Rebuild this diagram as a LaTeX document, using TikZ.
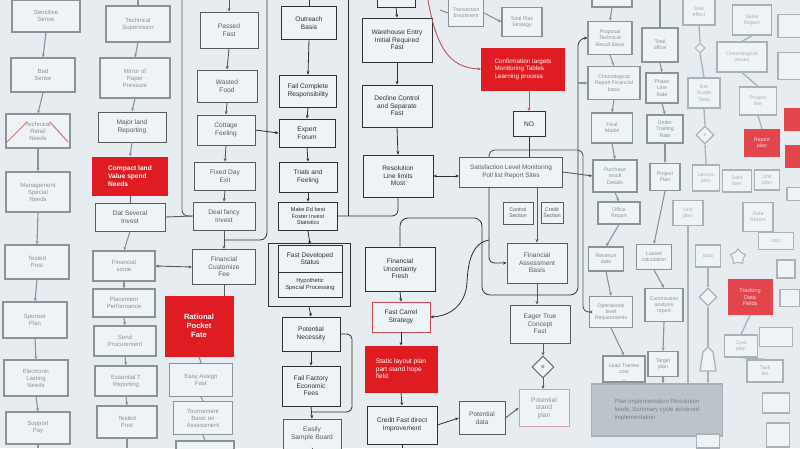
\documentclass[tikz,border=0pt]{standalone}
\usepackage{fontspec}
\setmainfont{Liberation Sans}
\usetikzlibrary{arrows.meta,shapes.geometric}
\definecolor{bg}{HTML}{E6ECF0}
\definecolor{boxf}{HTML}{EEF3F6}
\definecolor{dk}{HTML}{2B3135}
\definecolor{md}{HTML}{555D63}
\definecolor{lt}{HTML}{8A939A}
\definecolor{xl}{HTML}{A9B2B8}
\definecolor{rd}{HTML}{E01C23}
\definecolor{rdf}{HTML}{E2464C}
\definecolor{rdl}{HTML}{C2505A}
\definecolor{rdo}{HTML}{CC4A52}
\definecolor{pk}{HTML}{CFA0A6}
\definecolor{gbf}{HTML}{BAC4CA}
\definecolor{gbd}{HTML}{A5AFB6}
\definecolor{gbt}{HTML}{76818A}
\begin{document}
\begin{tikzpicture}[x=1pt,y=-1pt,
  base/.style={rectangle,align=center,inner sep=1pt,fill=boxf,font=\fontsize{6.6}{7.6}\selectfont},
  sz/.style 2 args={minimum width=#1pt,minimum height=#2pt},
  bx/.style={base,draw=dk,text=dk,line width=0.8pt},
  bm/.style={base,draw=md,text=md,line width=0.9pt},
  bl/.style={base,draw=lt,text=lt,line width=1.1pt,font=\fontsize{6}{7}\selectfont},
  bxl/.style={base,draw=xl,text=xl,line width=1.3pt,font=\fontsize{5.2}{6.2}\selectfont},
  rb/.style={base,fill=rd,draw=rd,text=white,line width=0.8pt},
  rbl/.style={base,fill=rdf,draw=rdf,text=white!80!rdf,line width=1pt,font=\fontsize{5.2}{6.2}\selectfont},
  smallf/.style={font=\fontsize{5.2}{6.2}\selectfont},
  ln/.style={draw=dk,line width=0.8pt},
  lnm/.style={draw=md,line width=0.9pt},
  lnl/.style={draw=lt,line width=1.1pt},
  lnx/.style={draw=xl,line width=1.3pt},
  arr/.style={-{Stealth[length=3.5pt,width=3pt]}},
  darr/.style={{Stealth[length=3.5pt,width=3pt]}-{Stealth[length=3.5pt,width=3pt]}},
]
\useasboundingbox (0,0) rectangle (800,448);
\clip (0,0) rectangle (800,448);
\fill[bg] (0,0) rectangle (800,448);

% ---------- column 1 ----------
\node[bl,sz={68}{32}] (a1) at (46,16) {Sensitive\\Sense};
\node[bl,sz={64}{34}] (a2) at (43,75) {Bad\\Sense};
\node[bl,sz={64}{34}] (a3) at (38,131) {Technical\\Retail\\Needs};
\node[bl,sz={64}{40}] (a4) at (38,192) {Management\\Special\\Needs};
\node[bl,sz={64}{34}] (a5) at (37,262) {Tested\\Post};
\node[bl,sz={64}{36}] (a6) at (35,320) {Sponsor\\Plan};
\node[bl,sz={64}{36}] (a7) at (36,378) {Electronic\\Lasting\\Needs};
\node[bl,sz={64}{32}] (a8) at (38,428) {Support\\Pay};
\foreach \u/\v in {a1/a2,a2/a3,a3/a4,a4/a5,a5/a6,a6/a7,a7/a8}
  \draw[lnl,arr] (\u.south) -- (\v.north);
\coordinate (a9) at (38,448);
\draw[lnl] (a8.south) -- (a9);
\draw[rdl!80,line width=1pt] (7,142) -- (27,122);
\draw[rdl!80,line width=1pt] (50,122) -- (68,142);

% ---------- column 2 ----------
\node[bl,sz={64}{36}] (b1) at (138,24) {Technical\\Supervision};
\node[bl,sz={70}{40}] (b2) at (135,78) {Mirror of\\Paper\\Pressure};
\node[bm,sz={68}{30}] (b3) at (132,127) {Major land\\Reporting};
\node[rb,sz={75}{38},font=\bfseries\fontsize{6.6}{7.8}\selectfont,align=left] (b4) at (130,176) {Compact land\\Value spend\\Needs};
\node[bm,sz={70}{28}] (b5) at (130,217) {Dat Several\\Invest};
\node[bl,sz={62}{30}] (b6) at (124,266) {Financial\\some};
\node[bl,sz={62}{28}] (b7) at (124,303) {Placement\\Performance};
\node[bl,sz={62}{30}] (b8) at (125,341) {Send\\Procurement};
\node[bl,sz={62}{30}] (b9) at (126,381) {Essential T\\Reporting};
\node[bl,sz={60}{32}] (b10) at (127,422) {Tested\\Post};
\coordinate (b0) at (138,0);
\draw[lnl] (b0) -- (b1.north);
\foreach \u/\v in {b1/b2,b2/b3,b3/b4}
  \draw[lnl,arr] (\u.south) -- (\v.north);
\draw[lnm] (b4.south) -- (b5.north);
\foreach \u/\v in {b5/b6,b6/b7,b7/b8,b8/b9,b9/b10}
  \draw[lnl,arr] (\u.south) -- (\v.north);
\coordinate (b11) at (127,448);
\draw[lnl] (b10.south) -- (b11);

% ---------- column 3 ----------
\node[bm,sz={58}{36}] (c1) at (229,30) {Passed\\Fast};
\node[bm,sz={60}{32}] (c2) at (227,86) {Wasted\\Food};
\node[bm,sz={58}{30}] (c3) at (226,130) {Cottage\\Feeling};
\node[bm,sz={61}{28}] (c4) at (225,176) {Fixed Day\\Exit};
\node[bm,sz={62}{28}] (c5) at (224,216) {Deal fancy\\Invest};
\node[bm,sz={63}{35}] (c6) at (224,267) {Financial\\Customize\\Fee};
\node[rb,sz={68}{60},font=\bfseries\fontsize{7.6}{9.2}\selectfont] (c7) at (199,326) {Rational\\Pocket\\Fate};
\node[bl,sz={63}{33}] (c8) at (201,380) {Easy Assign\\Fast};
\node[bl,sz={59}{33}] (c9) at (203,418) {Tournament\\Basic on\\Assessment};
\node[bl,sz={58}{28}] (c10) at (205,455) {};
\coordinate (c0) at (229,0);
\draw[lnm,arr] (c0) -- (c1.north);
\foreach \u/\v in {c1/c2,c2/c3,c3/c4,c4/c5,c5/c6}
  \draw[lnm,arr] (\u.south) -- (\v.north);
\draw[lnm] (c6.south) -- (c6.south |- c7.north);
\draw[lnl] (c7.south) -- (c8.north);
\draw[lnl] (c8.south) -- (c9.north);
\draw[lnl] (c9.south) -- (c10.north);
\coordinate (cv) at (182,0);
\draw[lnm,rounded corners=6] (cv) -- (182,216) -- (c5.west);
\draw[lnm] (b5.east) -- (c5.west);
\draw[lnm,darr] (b6.east) -- (c6.west);

% ---------- column 4 ----------
\node[bx,sz={55}{33}] (d1) at (309,23) {Outreach\\Basis};
\node[bx,sz={57}{32}] (d2) at (308,91) {Fail Complete\\Responsibility};
\node[bx,sz={56}{28}] (d3) at (307,133) {Expert\\Forum};
\node[bx,sz={58}{30}] (d4) at (308,177) {Trials and\\Feeling};
\node[bx,sz={59}{28},font=\fontsize{5.6}{6.6}\selectfont] (d5) at (308,216) {Make Ed best\\Foster Invest\\Statistics};
\node[draw=dk,line width=0.8pt,sz={82}{63}] (d6) at (309,274.5) {};
\node[bx,sz={64}{27}] (d7) at (310,258.5) {Fast Developed\\Status};
\node[bx,sz={64}{25},font=\fontsize{5.8}{6.8}\selectfont] (d8) at (310,284.5) {Hypothetic\\Special Processing};
\node[bx,sz={58}{34}] (d9) at (311,334) {Potential\\Necessity};
\node[bx,sz={58}{40}] (d10) at (311,386) {Fail Factory\\Economic\\Fees};
\node[bm,sz={58}{30}] (d11) at (312,434) {Easily\\Sample Board};
\coordinate (d0) at (309,0);
\draw[ln] (d0) -- (d1.north);
\foreach \u/\v in {d1/d2,d2/d3,d3/d4,d4/d5,d5/d7,d6/d9,d9/d10,d10/d11}
  \draw[ln,arr] (\u.south) -- (\v.north);
\coordinate (d12) at (312,448);
\draw[lnm] (d11.south) -- (d12);
\draw[ln,rounded corners=5] (d9.east) -- (352,334) -- (352,412) -- (311,412);
\coordinate (fl) at (267,0);
\coordinate (fr) at (348,0);
\draw[ln,rounded corners=7] (fl) -- (267,240) -- (224,240);
\draw[ln] (fr) -- (348,216);
\draw[ln,arr] (c3.east) -- (d3.west);

% ---------- column 5 ----------
\node[bx,sz={38}{20}] (e0) at (396,-3) {};
\node[bx,sz={70}{44}] (e1) at (397,40) {Warehouse Entry\\Initial Required\\Fast};
\node[bx,sz={70}{42}] (e2) at (397,106) {Decline Control\\and Separate\\Fast};
\node[bx,sz={70}{42}] (e3) at (398,176) {Resolution\\Line limits\\Most};
\node[bx,sz={70}{44}] (e4) at (400,269) {Financial\\Uncertainty\\Fresh};
\node[bx,draw=rdo,sz={58}{30}] (e5) at (401,317) {Fast Carrel\\Strategy};
\node[rb,sz={72}{46},align=left] (e6) at (401,369) {Static layout plan\\part stand hope\\field};
\node[bx,sz={70}{38}] (e7) at (402,425) {Credit Fast direct\\Improvement};
\node[bm,sz={46}{33}] (e8) at (482,418) {Potential\\data};
\node[bm,draw=pk,text=lt,sz={50}{37}] (e9) at (544,408) {Potential\\stand\\plan};
\foreach \u/\v in {e0/e1,e1/e2,e2/e3,e4/e5,e5/e6,e6/e7}
  \draw[ln,arr] (\u.south) -- (\v.north);
\draw[ln,rounded corners=6] (e3.south) |- (d5.east);
\draw[ln,arr] (e7.east) -- (e8.west);
\draw[lnm,arr] (e8.east) -- (e9.west);
\coordinate (e10) at (402,448);
\draw[ln] (e7.south) -- (e10);

% ---------- column 6 ----------
\node[bl,sz={35}{27},smallf] (f1) at (466,13) {Transaction\\Enrollment};
\node[bl,sz={40}{29},smallf] (f2) at (522,22) {Total Plan\\Strategy};
\node[rb,sz={83}{42},align=left,font=\fontsize{6.3}{7.6}\selectfont] (f3) at (523,69) {Confirmation targets\\Monitoring Tables\\Learning process};
\node[bx,sz={32}{25}] (f4) at (529,124) {NO};
\node[bm,sz={103}{30},font=\fontsize{6.4}{7.6}\selectfont] (f5) at (511,172) {Satisfaction Level Monitoring\\Poll list Report Sites};
\node[bm,sz={30}{22},smallf] (f6) at (518,213) {Control\\Section};
\node[bm,sz={22}{21},smallf] (f7) at (552,213) {Credit\\Section};
\node[bm,sz={60}{40}] (f8) at (537,263) {Financial\\Assessment\\Basis};
\node[bm,sz={60}{38}] (f9) at (540,324) {Eager True\\Concept\\Fast};
\node[diamond,draw=md,line width=0.9pt,fill=boxf,inner sep=0pt,minimum size=22pt,text=md,font=\fontsize{6}{7}\selectfont] (f10) at (543,367) {e};
\coordinate (f0) at (440,10);
\draw[lnl] (f0) -- (f1.west);
\draw[lnl,arr] (f1.east) -- (f2.west);
\coordinate (rc) at (428,0);
\draw[rdl,line width=0.9pt,arr] (rc) .. controls (436,45) and (448,68) .. (f3.west);
\draw[rdl,line width=0.9pt,arr] (f4.north |- f3.south) -- (f4.north);
\draw[ln] (f4.south) -- (f4.south |- f5.north);
\draw[ln,darr] (e3.east) -- (e3.east -| f5.west);
\draw[lnm,arr] (f8.north |- f5.south) -- (f8.north);
\draw[ln,arr,rounded corners=5] (489,187) -- (489,263) -- (f8.west);
\draw[ln,arr] (489,240) .. controls (472,243) and (468,262) .. (467,282) .. controls (466,303) and (452,316) .. (e5.east);
\draw[lnm,arr] (f8.south) -- (f8.south |- f9.north);
\draw[lnm,arr] (f10.north |- f9.south) -- (f10.north);
\draw[lnm,arr] (f10.south) -- (f10.south |- e9.north);

% ---------- column 7 ----------
\node[bl,sz={40}{20}] (g0) at (612,-3) {};
\node[bl,sz={44}{33},smallf] (g1) at (610,38) {Proposal\\Technical\\Result Basis};
\node[bl,sz={52}{33},smallf] (g2) at (614,83) {Chronological\\Report Financial\\basis};
\node[bl,sz={41}{30},smallf] (g3) at (612,128) {Final\\Model};
\node[bl,sz={44}{32},smallf] (g4) at (615,176) {Purchase\\result\\Details};
\node[bl,sz={42}{22},smallf] (g5) at (619,213) {Office\\Report};
\node[bl,sz={35}{24},smallf] (g6) at (606,259) {Revenue\\data};
\node[bl,sz={43}{31},smallf] (g7) at (611,312) {Operational\\level\\Requirements};
\node[bl,sz={42}{26},smallf] (g8) at (624,369) {Lead Trainee\\cost};
\foreach \u/\v in {g0/g1,g1/g2,g2/g3,g3/g4,g4/g5,g5/g6,g6/g7,g7/g8}
  \draw[lnl,arr] (\u.south) -- (\v.north);

% big loop and side lines
\draw[ln,arr,rounded corners=8] (e4.north) -- (400,218) -- (482,218) -- (482,295) -- (578,295) -- (578,38) -- (g1.west);
\draw[lnl,arr] (578,83) -- (g2.west);
\draw[lnm,arr,rounded corners=6] (489,157) -- (489,150) -- (583,150) -- (583,312) -- (g7.west);
\draw[lnm,arr] (f5.east) -- (g4.west);

% ---------- column 8 ----------
\node[bl,sz={36}{34},smallf] (h1) at (660,45) {Total\\office};
\node[bl,sz={32}{30},smallf] (h2) at (662,88) {Phase\\Line\\Rate};
\node[bl,sz={36}{28},smallf] (h3) at (665,129) {Under\\Trading\\Rate};
\node[bl,sz={30}{27},smallf] (h4) at (665,177) {Project\\Plan};
\node[bl,sz={35}{25},smallf] (h5) at (654,257) {Lasted\\calculation};
\node[bl,sz={38}{33},smallf] (h6) at (664,305) {Commission\\analysis\\report};
\node[bl,sz={30}{25},smallf] (h7) at (663,364) {Target\\plan};
\coordinate (h0) at (660,0);
\draw[lnl] (h0) -- (h1.north);
\foreach \u/\v in {h1/h2,h2/h3,h3/h4,h4/h5,h5/h6,h6/h7}
  \draw[lnl,arr] (\u.south) -- (\v.north);

% ---------- big grey box ----------
\node[base,fill=gbf,draw=gbd,line width=1.1pt,text=gbt,sz={131}{52},align=left,font=\fontsize{6}{8}\selectfont] (gb) at (657,410) {Plan implementation Resolution\\leads, Summary cycle achieved\\implementation};
\draw[lnl,arr] (g8.south) -- (g8.south |- gb.north);
\draw[lnl,arr] (h7.south) -- (h7.south |- gb.north);

% ---------- column 9 ----------
\node[bxl,sz={32}{26}] (k1) at (699,12) {Sale\\effect};
\node[diamond,draw=xl,line width=1pt,fill=boxf,inner sep=0pt,minimum size=10pt] (k2) at (700,48) {};
\node[bxl,sz={32}{30}] (k3) at (704,93) {line\\Scope\\Tools};
\node[diamond,draw=xl,line width=1.2pt,fill=boxf,inner sep=0pt,minimum size=18pt,text=xl,font=\fontsize{5}{6}\selectfont] (k4) at (705,135) {e};
\node[bxl,sz={27}{26}] (k5) at (706,178) {Lesson\\plan};
\node[bxl,sz={30}{25}] (k6) at (688,213) {Unit\\plan};
\node[bxl,sz={25}{22}] (k7) at (708,256) {data};
\node[diamond,draw=xl,line width=1.2pt,fill=boxf,inner sep=0pt,minimum size=18pt] (k8) at (708,297) {};
\draw[lnx,fill=boxf] (700,371) -- (703,352) -- (708,347) -- (713,352) -- (716,371) -- cycle;
\coordinate (k9) at (708,371);
\coordinate (k10) at (708,347);
\foreach \u/\v in {k1/k2,k2/k3,k3/k4,k4/k5,k7/k8}
  \draw[lnx] (\u.south) -- (\v.north);
\draw[lnx] (k8.south) -- (k10);
\draw[lnx,arr] (k9) -- (k9 |- gb.north);
\draw[lnx] (k6.south) -- (k6.south |- gb.north);

% ---------- column 10 (far right, faded) ----------
\node[bxl,sz={39}{30}] (m1) at (752,20) {Sales\\Report};
\node[bxl,sz={50}{30}] (m2) at (742,57) {Chronological\\issues};
\node[bxl,sz={37}{28}] (m3) at (758,101) {Project\\line};
\node[rbl,sz={35}{27}] (m4) at (762,143) {Report\\plan};
\node[rbl,sz={22}{22}] (m5) at (795,119) {};
\node[rbl,sz={22}{22}] (m6) at (796,156) {};
\node[bxl,sz={24}{23}] (m7) at (790,26) {};
\node[bxl,sz={24}{27}] (m8) at (790,66) {};
\node[bxl,sz={29}{22}] (m9) at (737,181) {Data\\item};
\node[bxl,sz={25}{20}] (m10) at (767,180) {Unit\\plan};
\node[bxl,sz={14}{13}] (m11) at (794,194) {};
\node[bxl,sz={30}{29}] (n1) at (758,217) {Data\\Report};
\node[bxl,sz={35}{17}] (n2) at (776,241) {calc};
\node[star,star points=5,draw=xl,line width=1pt,fill=boxf,inner sep=0pt,minimum size=16pt] (n3) at (738,257) {};
\node[bxl,sz={18}{18}] (n4) at (786,269) {};
\node[rbl,sz={44}{35},font=\fontsize{5.6}{6.6}\selectfont] (n5) at (750,297) {Tracking\\Data\\Fields};
\node[bxl,sz={20}{17}] (n6) at (790,298) {};
\node[bxl,sz={33}{22}] (n7) at (741,346) {Cost\\plan};
\node[bxl,sz={33}{19}] (n8) at (776,337) {};
\node[bxl,sz={36}{22}] (n9) at (765,371) {Task\\list};
\node[bxl,sz={27}{20}] (n10) at (776,403) {};
\node[bxl,sz={23}{24}] (n11) at (778,435) {};
\node[bxl,sz={23}{14}] (n12) at (708,441) {};
\foreach \u/\v in {m1/m2,m2/m3,m3/m4,n5/n7,n7/n9}
  \draw[lnx] (\u.south) -- (\v.north);
\end{tikzpicture}
\end{document}
